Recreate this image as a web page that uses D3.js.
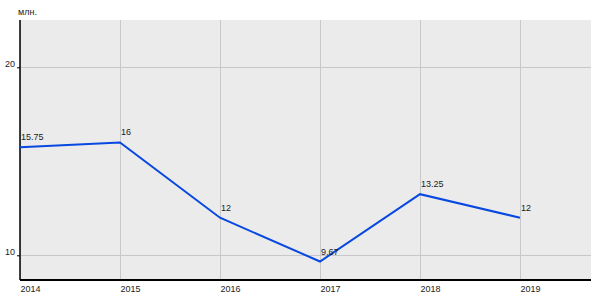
<!DOCTYPE html>
<html><head><meta charset="utf-8">
<script src="https://cdn.jsdelivr.net/npm/d3@7"></script>
<style>body{margin:0;background:#fff}svg{display:block}text{font-family:"Liberation Sans",Arial,sans-serif;font-size:9px;fill:#222}</style>
</head><body><svg id="c" width="600" height="300"></svg>
<script>
const years = [2014, 2015, 2016, 2017, 2018, 2019];
const values = [15.75, 16, 12, 9.67, 13.25, 12];
const valueLabels = ["15.75", "16", "12", "9.67", "13.25", "12"];
const yTicks = [10, 20];
const unitLabel = "млн.";

const svg = d3.select("#c");
const m = {l:20, r:9, t:20, b:20};
const W = 600, H = 300;
const x = d3.scaleLinear().domain([2014, 2019.71]).range([m.l, W - m.r]);
const y = d3.scaleLinear().domain([8.686, 22.516]).range([H - m.b, m.t]);

svg.append("rect").attr("x", m.l).attr("y", m.t).attr("width", W - m.r - m.l).attr("height", H - m.b - m.t).attr("fill", "#ebebeb");

// grid
svg.append("g").selectAll("line").data(years).join("line")
  .attr("x1", d => x(d)).attr("x2", d => x(d)).attr("y1", m.t).attr("y2", H - m.b)
  .attr("stroke", "#c8c8c8").attr("stroke-width", 1).attr("shape-rendering","crispEdges");
svg.append("g").selectAll("line").data(yTicks).join("line")
  .attr("x1", m.l).attr("x2", W - m.r).attr("y1", d => y(d)).attr("y2", d => y(d))
  .attr("stroke", "#c8c8c8").attr("stroke-width", 1).attr("shape-rendering","crispEdges");

// axes
const yAxis = d3.axisLeft(y).tickValues(yTicks).tickSize(3).tickPadding(2).tickFormat(d3.format("d"));
const gy = svg.append("g").attr("transform", `translate(${m.l},0)`).call(yAxis);
gy.select(".domain").remove();
gy.selectAll("line").attr("stroke", "#000");
gy.selectAll("text").attr("dy", "-0.05em").style("font-size","9px").style("font-family","Liberation Sans, Arial, sans-serif").attr("fill","#222");

const xAxis = d3.axisBottom(x).tickValues(years).tickSize(0).tickPadding(0).tickFormat(d3.format("d"));
const gx = svg.append("g").attr("transform", `translate(0,${H - m.b})`).call(xAxis);
gx.select(".domain").remove();
gx.selectAll("text").attr("text-anchor", "start").attr("dy", null).attr("y", 12)
  .style("font-size","9px").style("font-family","Liberation Sans, Arial, sans-serif").attr("fill","#222");

svg.append("line").attr("x1", m.l).attr("x2", m.l).attr("y1", m.t).attr("y2", H - m.b)
  .attr("stroke", "#000").attr("stroke-width", 1.5);
svg.append("line").attr("x1", m.l).attr("x2", W - m.r).attr("y1", H - m.b).attr("y2", H - m.b)
  .attr("stroke", "#000").attr("stroke-width", 2);

// line
const line = d3.line().x((d,i) => x(years[i])).y(d => y(d));
svg.append("path").datum(values).attr("d", line).attr("fill", "none")
  .attr("stroke", "#0648e0").attr("stroke-width", 2);

// labels
svg.append("g").selectAll("text").data(values).join("text")
  .attr("x", (d,i) => x(years[i]) + 1).attr("y", d => y(d) - 7)
  .text((d,i) => valueLabels[i]);

svg.append("text").attr("x", m.l - 2).attr("y", 15).text(unitLabel);
</script></body></html>
